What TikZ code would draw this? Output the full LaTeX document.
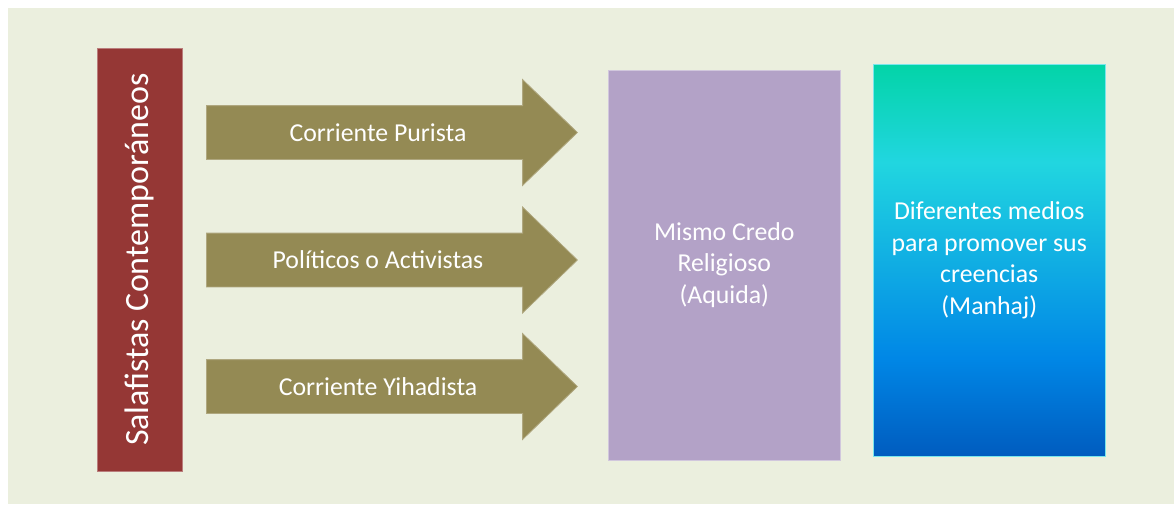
\documentclass[tikz,border=0pt]{standalone}
\usepackage{fontspec}
\setmainfont{Carlito}
\usetikzlibrary{shapes.arrows}

\definecolor{fondo}{HTML}{EBEFDE}
\definecolor{rojo}{HTML}{953735}
\definecolor{oliva}{HTML}{948A54}
\definecolor{lila}{HTML}{B3A2C7}
\definecolor{oceanA}{HTML}{03D4A8}
\definecolor{oceanB}{HTML}{21D6E0}
\definecolor{oceanC}{HTML}{0087E6}
\definecolor{oceanD}{HTML}{005CBF}

\pgfdeclareverticalshading{ocean}{100bp}{color(0bp)=(oceanD); color(25bp)=(oceanD); color(37.5bp)=(oceanC); color(62.5bp)=(oceanB); color(75bp)=(oceanA); color(100bp)=(oceanA)}

\begin{document}
\begin{tikzpicture}[x=1pt,y=-1pt,
  txt/.style={text=white,font=\fontsize{25.8}{31.7}\selectfont,align=center},
  flecha/.style={single arrow,fill=oliva,draw=oliva!75!white,line width=0.8pt,
    minimum height=371pt,minimum width=105pt,single arrow head extend=26pt,
    single arrow tip angle=88,inner xsep=0pt,inner ysep=26.5pt,anchor=tail}]

\useasboundingbox (0,0) rectangle (1174,504);
\fill[fondo] (8,8) rectangle (1174,504);

\node[txt,font=\fontsize{34}{40}\selectfont,rotate=90,fill=rojo,draw=rojo!65!white,line width=0.8pt,
  minimum width=423pt,minimum height=85.5pt,inner sep=0pt] (salaf) at (139.75,259.5) {Salafistas Contemporáneos};

\foreach \y/\nombre/\texto in {132.5/purista/Corriente Purista,
    260/activistas/Políticos o Activistas,
    386.5/yihadista/Corriente Yihadista}
{
    \node[flecha] (\nombre) at (206,\y) {};
    \node[txt] (\nombre-t) at (378,\y) {\texto};
}

\node[txt,fill=lila,draw=lila!60!white,line width=0.8pt,
  minimum width=232.7pt,minimum height=390pt] (credo) at (724.3,265) {Mismo Credo\\Religioso\\(Aquida)};

\node[txt,shading=ocean,draw=oceanB!60!white,line width=0.8pt,
  minimum width=232.5pt,minimum height=391.5pt] (manhaj) at (989.25,260.25) {Diferentes medios\\para promover sus\\creencias\\(Manhaj)};

\end{tikzpicture}
\end{document}
